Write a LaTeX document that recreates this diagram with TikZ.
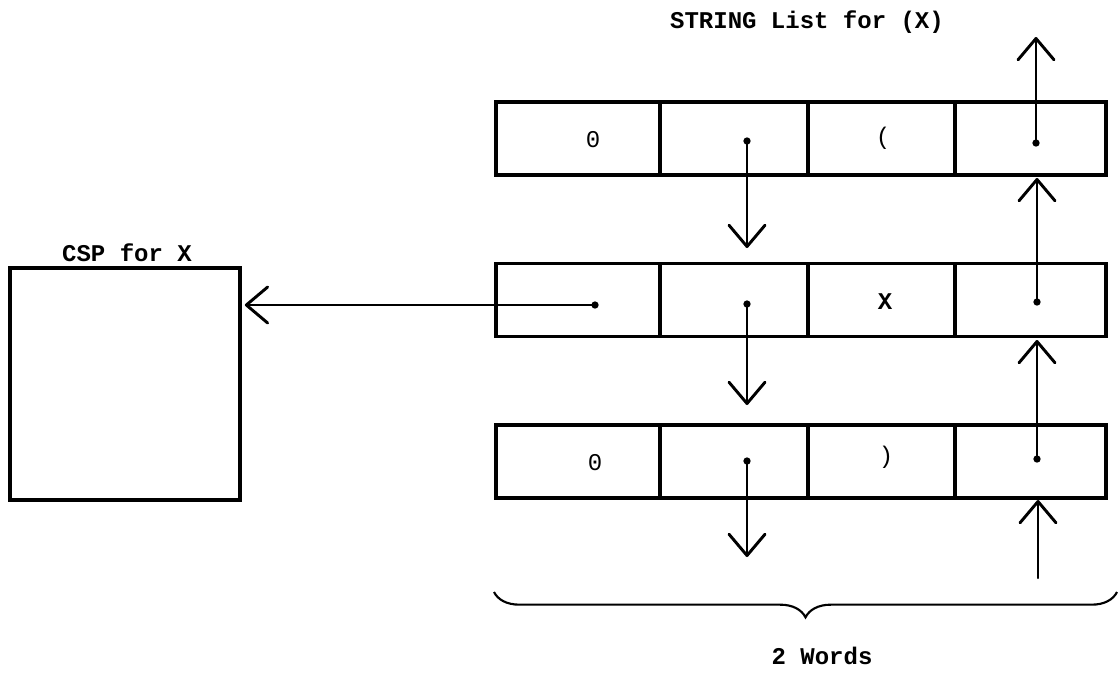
\documentclass[tikz,border=0pt]{standalone}
\usepackage{fontspec}
\setmonofont{Liberation Mono}
\usetikzlibrary{arrows.meta,decorations.pathreplacing}

\begin{document}
\begin{tikzpicture}[x=0.75pt,y=-0.75pt,
  txt/.style={font=\ttfamily\bfseries\fontsize{18}{21}\selectfont, inner sep=0pt},
  celltxt/.style={font=\ttfamily\fontsize{18}{21}\selectfont, inner sep=0pt},
  cell/.style={draw, line width=2.3pt, inner sep=0pt, minimum height=54.75pt},
  ptrdot/.style={circle, fill, inner sep=0pt, minimum size=5.5pt},
  ptr/.style={line width=1.5pt, line cap=round,
    -{Straight Barb[length=16pt,width=27pt,line width=2.2pt,round]}},
  brace/.style={decorate, line width=1.6pt,
    decoration={brace, amplitude=19pt}}]

\useasboundingbox (0,0) rectangle (1120,672);

% title of the list
\node[txt] (title) at (807,22) {STRING List for (X)};

% CSP block
\node[draw, line width=2.3pt, minimum width=172.5pt, minimum height=174pt]
  (csp) at (125,384) {};
\node[txt, anchor=base] (csplabel) at (127,261) {CSP for X};

% string list, three rows of four cells
\foreach \r/\y in {1/138.5, 2/300, 3/461.5} {
  \node[cell, minimum width=123pt]    (r\r c1) at (578,\y) {};
  \node[cell, minimum width=111pt]    (r\r c2) at (734,\y) {};
  \node[cell, minimum width=110.25pt] (r\r c3) at (881.5,\y) {};
  \node[cell, minimum width=113.25pt] (r\r c4) at (1030.5,\y) {};
}

% cell contents
\node[celltxt] (t11) at (593,140) {0};
\node[celltxt] (t13) at (883,138) {(};
\node[txt]     (t23) at (885,302) {X};
\node[celltxt] (t31) at (595,463) {0};
\node[celltxt] (t33) at (886,457) {)};

% pointer origins
\node[ptrdot] (d12) at (747,141) {};
\node[ptrdot] (d14) at (1036,143) {};
\node[ptrdot] (d21) at (595,305) {};
\node[ptrdot] (d22) at (747,304) {};
\node[ptrdot] (d24) at (1037,302) {};
\node[ptrdot] (d32) at (747,461) {};
\node[ptrdot] (d34) at (1037,459) {};

% free ends of pointers
\coordinate (up1)  at (1036,37);
\coordinate (dn1)  at (747,248);
\coordinate (dn2)  at (747,405);
\coordinate (dn3)  at (747,557);
\coordinate (up2)  at (1037,178);
\coordinate (up3)  at (1037,340);
\coordinate (inT)  at (1038,578);
\coordinate (inH)  at (1038,500);

% pointers
\draw[ptr] (d14.center) -- (up1);
\draw[ptr] (d12.center) -- (dn1);
\draw[ptr] (d22.center) -- (dn2);
\draw[ptr] (d32.center) -- (dn3);
\draw[ptr] (d24.center) -- (up2);
\draw[ptr] (d34.center) -- (up3);
\draw[ptr] (inT) -- (inH);
\draw[ptr] (d21.center) -- ([xshift=2.5pt]csp.east |- d21);

% width brace
\coordinate (bR) at (1117,592);
\coordinate (bL) at (494,592);
\draw[brace] (bR) -- (bL);
\node[txt] (words) at (822,656) {2 Words};

\end{tikzpicture}
\end{document}
